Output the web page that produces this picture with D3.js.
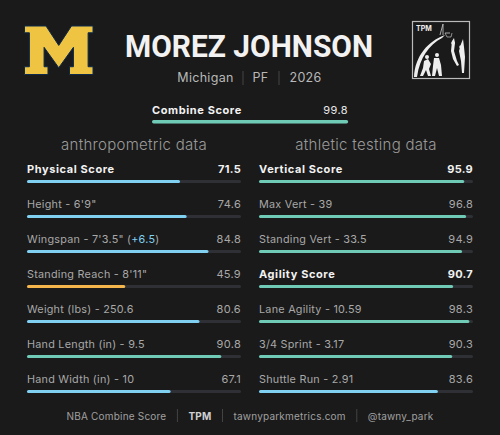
<!DOCTYPE html>
<html>
<head>
<meta charset="utf-8">
<script src="https://cdn.jsdelivr.net/npm/d3@7"></script>
<style>
  html, body { margin: 0; padding: 0; background: #1a1a1a; }
  svg { display: block; font-family: Inter, "Noto Sans", sans-serif; }
</style>
</head>
<body>
<svg id="chart" width="500" height="435"></svg>
<script>
var playerName = "MOREZ JOHNSON";
var subInfo = ["Michigan", "PF", "2026"];
var combineScore = 99.8;

var anthroLabels = ["Physical Score", "Height - 6'9\"", "Wingspan - 7'3.5\" (", "Standing Reach - 8'11\"", "Weight (lbs) - 250.6", "Hand Length (in) - 9.5", "Hand Width (in) - 10"];
var anthroValues = [71.5, 74.6, 84.8, 45.9, 80.6, 90.8, 67.1];
var anthroBold = [true, false, false, false, false, false, false];

var athleticLabels = ["Vertical Score", "Max Vert - 39", "Standing Vert - 33.5", "Agility Score", "Lane Agility - 10.59", "3/4 Sprint - 3.17", "Shuttle Run - 2.91"];
var athleticValues = [95.9, 96.8, 94.9, 90.7, 98.3, 90.3, 83.6];
var athleticBold = [true, false, false, true, false, false, false];

var footerParts = ["NBA Combine Score", "TPM", "tawnyparkmetrics.com", "@tawny_park"];

var svg = d3.select("#chart"),
    width = +svg.attr("width"),
    height = +svg.attr("height");

svg.append("rect").attr("width", width).attr("height", height).attr("fill", "#1a1a1a");

function barColor(v) {
    if (v >= 85) return "#6fcbb5";
    if (v >= 50) return "#80d0f2";
    return "#f4b54d";
}

// Michigan block M
var mPts = [[0,0],[22,0],[35,20],[48,0],[70,0],[70,7],[65,7],[65,42],[70,42],[70,50],[46,50],[46,42],[50,42],[50,22],[35,43],[20,22],[20,42],[24,42],[24,50],[0,50],[0,42],[5,42],[5,7],[0,7]];
var mx = d3.scaleLinear().domain([0, 70]).range([24.5, 93]);
var my = d3.scaleLinear().domain([0, 50]).range([26, 74.5]);
svg.append("path")
    .attr("d", d3.line().x(function(d){ return mx(d[0]); }).y(function(d){ return my(d[1]); })(mPts) + "Z")
    .attr("fill", "#f0c443")
    .attr("stroke", "#0d2a4d")
    .attr("stroke-width", 1);

// title
svg.append("text")
    .attr("x", 125).attr("y", 56.5)
    .attr("fill", "#f2f2f2")
    .attr("font-family", "Roboto, Inter, sans-serif")
    .attr("font-size", "32px")
    .attr("font-weight", 700)
    .attr("textLength", 248)
    .attr("lengthAdjust", "spacingAndGlyphs")
    .text(playerName);

var subX = [205.5, 260.5, 305.5];
subInfo.forEach(function(s, i) {
    svg.append("text")
        .attr("x", subX[i]).attr("y", 82)
        .attr("text-anchor", "middle")
        .attr("fill", "#b8b8b8")
        .attr("font-size", "12.5px")
        .attr("letter-spacing", "0.3px")
        .text(s);
});
[243, 279].forEach(function(x) {
    svg.append("line").attr("x1", x).attr("x2", x).attr("y1", 71).attr("y2", 85)
        .attr("stroke", "#444").attr("stroke-width", 1);
});

// TPM logo
var logo = svg.append("g").attr("transform", "translate(412,21)");
logo.append("rect").attr("x", 0.5).attr("y", 0.5).attr("width", 57).attr("height", 57)
    .attr("fill", "none").attr("stroke", "#bbb").attr("stroke-width", 1.2);
logo.append("text").attr("x", 4).attr("y", 10).attr("fill", "#eee")
    .attr("font-size", "7px").attr("font-weight", 700).text("TPM");
logo.append("path").attr("d", "M2,56 C3,35 16,20 33,14 L30,17 C17,24 8,36 5,56 Z").attr("fill", "#eee");
logo.append("path").attr("d", "M28,14 L31,3 M31,3 L31,14 M33,12 L38,12").attr("stroke", "#ccc").attr("stroke-width", 0.8).attr("fill", "none");
logo.append("path").attr("d", "M33,12 L35,16 L39,16 L40,12").attr("stroke", "#ddd").attr("stroke-width", 0.6).attr("fill", "none");
// players
logo.append("path").attr("d", "M40,20 L42,17 L43,22 L42,30 L45,40 L47,44 L45,45 L41,38 L39,30 Z").attr("fill", "#eee");
logo.append("circle").attr("cx", 41).attr("cy", 22).attr("r", 1.8).attr("fill", "#eee");
logo.append("path").attr("d", "M49,23 L51,18 L52,26 L53,36 L52,52 L50,52 L49,40 L47,30 Z").attr("fill", "#eee");
logo.append("circle").attr("cx", 49).attr("cy", 26).attr("r", 1.8).attr("fill", "#eee");
logo.append("path").attr("d", "M22,37 L27,37 L29,44 L30,55 L27,55 L25,47 L23,55 L20,55 L21,45 Z").attr("fill", "#eee");
logo.append("circle").attr("cx", 25).attr("cy", 34).attr("r", 2).attr("fill", "#eee");
logo.append("path").attr("d", "M12,40 L16,38 L19,43 L17,48 L19,55 L16,55 L14,49 L11,55 L8,55 L11,47 Z").attr("fill", "#eee");
logo.append("circle").attr("cx", 15).attr("cy", 36).attr("r", 2).attr("fill", "#eee");

// combine score
var cx = d3.scaleLinear().domain([0, 100]).range([152, 348.5]);
svg.append("text").attr("x", 152).attr("y", 114)
    .attr("fill", "#f2f2f2").attr("font-size", "11px").attr("font-weight", 700)
    .attr("letter-spacing", "0.6px").text("Combine Score");
svg.append("text").attr("x", 348).attr("y", 114).attr("text-anchor", "end")
    .attr("fill", "#e8e8e8").attr("font-size", "11px").attr("letter-spacing", "0.4px")
    .text(combineScore.toFixed(1));
svg.append("rect").attr("x", cx(0)).attr("y", 120).attr("height", 3.5)
    .attr("width", cx(100) - cx(0)).attr("rx", 1.7).attr("fill", "#2e3035");
svg.append("rect").attr("x", cx(0)).attr("y", 120).attr("height", 3.5)
    .attr("width", cx(combineScore) - cx(0)).attr("rx", 1.7).attr("fill", barColor(combineScore));

// panels
var rowY = d3.scalePoint().domain(d3.range(7)).range([169, 379]);

function panel(x0, x1, title, labels, values, bold, extra) {
    var x = d3.scaleLinear().domain([0, 100]).range([x0, x1]);
    svg.append("text").attr("x", (x0 + x1) / 2).attr("y", 150)
        .attr("text-anchor", "middle").attr("fill", "#9a9a9a")
        .attr("font-size", "15px").attr("font-weight", 300).attr("letter-spacing", "0.3px")
        .text(title);

    var g = svg.append("g");
    var row = g.selectAll("g.row").data(values).enter().append("g").attr("class", "row");

    var lab = row.append("text")
        .attr("x", x0)
        .attr("y", function(d, i) { return rowY(i) + 4; })
        .attr("fill", function(d, i) { return bold[i] ? "#f2f2f2" : "#a8a8a8"; })
        .attr("font-size", function(d, i) { return bold[i] ? "11px" : "10.8px"; })
        .attr("font-weight", function(d, i) { return bold[i] ? 700 : 400; })
        .attr("letter-spacing", function(d, i) { return bold[i] ? "0.6px" : "0.25px"; })
        .text(function(d, i) { return labels[i]; });

    if (extra) {
        lab.filter(function(d, i) { return i === extra.row; })
            .each(function() {
                var t = d3.select(this);
                t.append("tspan").attr("fill", "#80d0f2").text(extra.text);
                t.append("tspan").text(")");
            });
    }

    row.append("text")
        .attr("x", x1)
        .attr("y", function(d, i) { return rowY(i) + 4; })
        .attr("text-anchor", "end")
        .attr("fill", function(d, i) { return bold[i] ? "#f2f2f2" : "#a8a8a8"; })
        .attr("font-size", "11px")
        .attr("font-weight", function(d, i) { return bold[i] ? 700 : 400; })
        .attr("letter-spacing", "0.3px")
        .text(function(d) { return d.toFixed(1); });

    row.append("rect")
        .attr("x", x(0))
        .attr("y", function(d, i) { return rowY(i) + 11; })
        .attr("height", 3)
        .attr("width", x(100) - x(0))
        .attr("rx", 1.5)
        .attr("fill", "#2e3035");

    row.append("rect")
        .attr("x", x(0))
        .attr("y", function(d, i) { return rowY(i) + 11; })
        .attr("height", 3)
        .attr("width", function(d) { return x(d) - x(0); })
        .attr("rx", 1.5)
        .attr("fill", function(d) { return barColor(d); });
}

panel(27, 241, "anthropometric data", anthroLabels, anthroValues, anthroBold, {row: 2, text: "+6.5"});
panel(259, 473, "athletic testing data", athleticLabels, athleticValues, athleticBold, null);

// footer, laid out from measured text widths and centred
var gap = 11;
var foot = svg.append("g");
var items = footerParts.map(function(s, i) {
    return foot.append("text").attr("y", 420)
        .attr("fill", i === 1 ? "#d0d0d0" : "#a0a0a0")
        .attr("font-size", "10px")
        .attr("font-weight", i === 1 ? 700 : 400)
        .attr("letter-spacing", "0.2px")
        .text(s);
});
var widths = items.map(function(t) { return t.node().getComputedTextLength(); });
var total = d3.sum(widths) + gap * 2 * (items.length - 1);
var fx = 250 - total / 2;
items.forEach(function(t, i) {
    t.attr("x", fx);
    fx += widths[i];
    if (i < items.length - 1) {
        foot.append("line").attr("x1", fx + gap).attr("x2", fx + gap).attr("y1", 409).attr("y2", 422)
            .attr("stroke", "#444").attr("stroke-width", 1);
        fx += gap * 2;
    }
});
</script>
</body>
</html>
